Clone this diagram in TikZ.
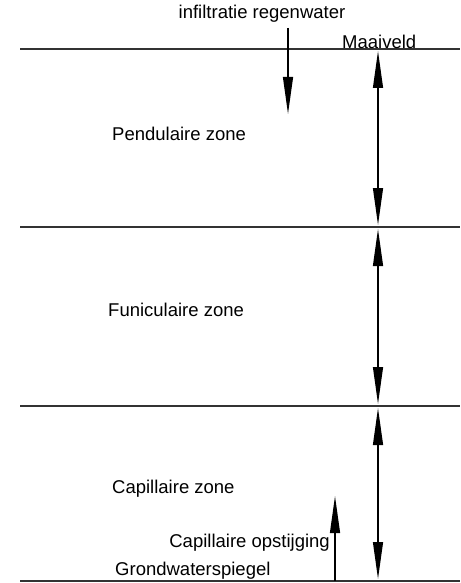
\documentclass[tikz,border=0pt]{standalone}
\usepackage{fontspec}
\setmainfont{Liberation Sans}
\usepackage{tikz}
\usetikzlibrary{positioning,arrows.meta}
\definecolor{zoneline}{HTML}{333333}

\begin{document}
\begin{tikzpicture}[x=1pt,y=-1pt,font=\fontsize{18.5}{22}\selectfont,inner sep=0pt]
  \tikzstyle{level}=[draw=zoneline,line width=1.6pt]
  \tikzstyle{flow}=[line width=2.8pt,-{Triangle[length=38pt,width=9.5pt]}]
  \tikzstyle{both}=[line width=2.8pt,{Triangle[length=38pt,width=9.5pt]}-{Triangle[length=38pt,width=9.5pt]}]
  \tikzstyle{lbl}=[anchor=west]
  \useasboundingbox (0,0) rectangle (460,583);
  % horizontal levels
  \coordinate (mw) at (20,49);  \coordinate (me) at (460,49);
  \coordinate (pw) at (20,227); \coordinate (pe) at (460,227);
  \coordinate (fw) at (20,406); \coordinate (fe) at (460,406);
  \coordinate (gw) at (20,581); \coordinate (ge) at (460,581);
  \draw[level] (mw) -- (me);
  \draw[level] (pw) -- (pe);
  \draw[level] (fw) -- (fe);
  \draw[level] (gw) -- (ge);
  % zone extent arrows
  \coordinate (a0) at (378,50);
  \coordinate (a1) at (378,226);
  \coordinate (a2) at (378,228);
  \coordinate (a3) at (378,405);
  \coordinate (a4) at (378,407);
  \coordinate (a5) at (378,580);
  \draw[both] (a0) -- (a1);
  \draw[both] (a2) -- (a3);
  \draw[both] (a4) -- (a5);
  % infiltration and capillary rise
  \coordinate (rs) at (288,28);  \coordinate (rt) at (288,115);
  \coordinate (cs) at (335,581); \coordinate (ct) at (335,495);
  \draw[flow] (rs) -- (rt);
  \draw[flow] (cs) -- (ct);
  % labels
  \node (regen) at (262,14) {infiltratie regenwater};
  \node[anchor=base west] (maaiveld) at (342,49) {Maaiveld};
  \node[lbl] (pend) at (112,134) {Pendulaire zone};
  \node[lbl] (funi) at (108,310) {Funiculaire zone};
  \node[lbl] (capz) at (112,489) {Capillaire zone};
  \node[anchor=east] (opst) at (330,543) {Capillaire opstijging};
  \node[lbl] (gws) at (115,571) {Grondwaterspiegel};
\end{tikzpicture}
\end{document}
